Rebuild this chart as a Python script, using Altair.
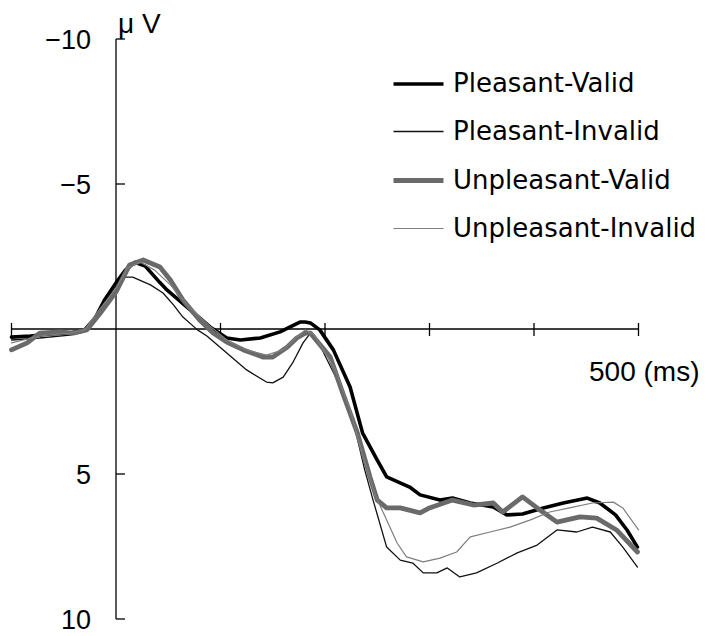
import altair as alt
import pandas as pd

# ---- data (time in ms, amplitude in microvolts) ----
series = ["Pleasant-Valid", "Pleasant-Invalid", "Unpleasant-Valid", "Unpleasant-Invalid"]

pv_t = [-100, -82, -63, -44, -30, -20, -11, 0, 9, 18, 28, 42, 49, 71, 90, 106, 119, 138, 157, 176,
        181, 186, 195, 208, 224, 236, 250, 259, 281, 291, 310, 322, 339, 361, 374, 389, 409, 428, 451, 463,
        478, 489, 499]
pv_v = [0.28, 0.24, 0.17, 0.14, 0.03, -0.38, -1.0, -1.59, -2.03, -2.3, -2.17, -1.6, -1.34, -0.66, -0.07, 0.31, 0.38, 0.31, 0.10, -0.24,
        -0.24, -0.21, 0.03, 0.72, 2.0, 3.59, 4.52, 5.10, 5.45, 5.72, 5.90, 5.83, 6.0, 6.14, 6.41, 6.38, 6.17, 6.0, 5.83, 6.0,
        6.41, 6.93, 7.52]

pi_t = [-100, -73, -44, -30, -20, -11, 0, 9, 16, 33, 45, 55, 64, 78, 87, 106, 125, 144, 150, 160,
        169, 179, 186, 195, 214, 229, 238, 246, 259, 272, 284, 294, 307, 317, 329, 345, 365, 384, 403, 422,
        441, 456, 473, 485, 499]
pi_v = [0.38, 0.31, 0.21, 0.10, -0.31, -0.9, -1.52, -1.79, -1.79, -1.52, -1.24, -0.83, -0.41, 0.03, 0.24, 0.83, 1.41, 1.83, 1.86, 1.66,
        1.17, 0.48, 0.14, 0.55, 1.93, 3.48, 4.86, 5.90, 7.52, 7.97, 8.07, 8.41, 8.41, 8.24, 8.55, 8.41, 8.07, 7.72, 7.45, 6.93,
        7.0, 6.83, 7.0, 7.52, 8.21]

uv_t = [-100, -85, -73, -54, -41, -28, -15, 0, 13, 26, 42, 52, 64, 80, 93, 106, 122, 141, 150, 164,
        173, 181, 186, 205, 217, 231, 243, 250, 259, 272, 291, 300, 322, 342, 361, 370, 389, 403, 422, 444,
        460, 479, 499]
uv_v = [0.72, 0.48, 0.14, 0.10, 0.14, 0.03, -0.55, -1.28, -2.21, -2.38, -2.14, -1.69, -1.0, -0.31, 0.14, 0.45, 0.72, 0.97, 0.97, 0.62,
        0.31, 0.14, 0.14, 0.97, 2.21, 3.59, 5.10, 5.90, 6.17, 6.17, 6.34, 6.17, 5.90, 6.07, 6.0, 6.31, 5.79, 6.17, 6.66, 6.48,
        6.52, 6.93, 7.69]

ui_t = [-100, -73, -44, -30, -20, 0, 11, 23, 37, 52, 71, 90, 106, 125, 144, 160, 173, 181, 190, 210,
        224, 236, 248, 259, 269, 278, 294, 310, 326, 339, 358, 377, 396, 415, 434, 456, 476, 485, 500]
ui_v = [0.48, 0.24, 0.14, 0.03, -0.48, -1.41, -2.10, -2.31, -2.03, -1.52, -0.72, -0.10, 0.38, 0.72, 0.90, 0.72, 0.28, 0.03, 0.21, 1.41,
        2.79, 4.34, 5.72, 6.59, 7.38, 7.86, 8.03, 7.90, 7.69, 7.17, 7.0, 6.83, 6.59, 6.31, 6.17, 6.0, 5.97, 6.17, 6.93]

y_tick_values = [-10, -5, 5, 10]
y_tick_labels = ["\u221210", "\u22125", "5", "10"]
x_tick_values = [-100, 100, 200, 300, 400, 500]
x_range = [-100, 500]
y_range = [-10, 10]

# ---- build tables ----
rows = []
for name, ts, vs in zip(series, [pv_t, pi_t, uv_t, ui_t], [pv_v, pi_v, uv_v, ui_v]):
    for t, v in zip(ts, vs):
        rows.append({"series": name, "t": t, "v": v})
df = pd.DataFrame(rows)

x_scale = alt.Scale(domain=x_range, nice=False, zero=False)
y_scale = alt.Scale(domain=y_range, reverse=True, nice=False, zero=False)

colors = ["#000000", "#111111", "#6a6a6a", "#7e7e7e"]
widths = [3.6, 1.3, 4.8, 1.2]

leg = alt.Legend(
    title=None, orient="none", legendX=379.5, legendY=18,
    symbolType="stroke", symbolSize=2500, labelFontSize=26, labelFont="DejaVu Sans",
    labelColor="black", labelOffset=7, rowPadding=8.5, padding=0, labelLimit=400,
)

lines = alt.Chart(df).mark_line(strokeJoin="round", strokeCap="round").encode(
    x=alt.X("t:Q", scale=x_scale, axis=None),
    y=alt.Y("v:Q", scale=y_scale, axis=None),
    color=alt.Color("series:N", scale=alt.Scale(domain=series, range=colors), legend=leg),
    strokeWidth=alt.StrokeWidth("series:N", scale=alt.Scale(type="ordinal", domain=series, range=widths), legend=leg),
)

axes_df = pd.DataFrame({"t0": [0, x_range[0]], "t1": [0, x_range[1]],
                        "v0": [y_range[0], 0], "v1": [y_range[1], 0]})
axis_lines = alt.Chart(axes_df).mark_rule(color="black", strokeWidth=1.3).encode(
    x=alt.X("t0:Q", scale=x_scale, axis=None), x2="t1:Q",
    y=alt.Y("v0:Q", scale=y_scale, axis=None), y2="v1:Q",
)

ydf = pd.DataFrame({"v": y_tick_values, "label": y_tick_labels, "t": [0] * len(y_tick_values)})
y_ticks = alt.Chart(ydf).mark_rule(color="black", strokeWidth=1.3, x2Offset=9).encode(
    x=alt.X("t:Q", scale=x_scale, axis=None), x2="t:Q", y=alt.Y("v:Q", scale=y_scale, axis=None)
)
y_labels = alt.Chart(ydf).mark_text(
    align="right", baseline="middle", dx=-25, dy=2, font="Liberation Sans", fontSize=27, color="black"
).encode(x=alt.X("t:Q", scale=x_scale, axis=None), y=alt.Y("v:Q", scale=y_scale, axis=None), text="label:N")

xdf = pd.DataFrame({"t": x_tick_values, "v": [0] * len(x_tick_values)})
x_ticks = alt.Chart(xdf).mark_rule(color="black", strokeWidth=1.3, yOffset=-6, y2Offset=7).encode(
    x=alt.X("t:Q", scale=x_scale, axis=None), y=alt.Y("v:Q", scale=y_scale, axis=None), y2="v:Q"
)

tdf = pd.DataFrame({"t": [x_range[1], 0], "v": [0, y_range[0]], "label": ["500 (ms)", "\u03bc V"]})
x_title = alt.Chart(tdf).transform_filter(alt.datum.v == 0).mark_text(
    align="right", baseline="middle", dx=61, dy=44, font="Liberation Sans", fontSize=28, color="black"
).encode(x=alt.X("t:Q", scale=x_scale, axis=None), y=alt.Y("v:Q", scale=y_scale, axis=None), text="label:N")
y_title = alt.Chart(tdf).transform_filter(alt.datum.v != 0).mark_text(
    align="left", baseline="alphabetic", dx=2, dy=-6, font="Liberation Sans", fontSize=28, color="black"
).encode(x=alt.X("t:Q", scale=x_scale, axis=None), y=alt.Y("v:Q", scale=y_scale, axis=None), text="label:N")

chart = alt.layer(
    axis_lines, y_ticks, x_ticks, y_labels, x_title, y_title, lines
).properties(
    width=627, height=580,
    autosize=alt.AutoSizeParams(type="none"),
    padding={"left": 3.5, "top": 31, "right": 61.5, "bottom": 17},
).configure_view(stroke=None)

chart.save("out.html", embed_options={"renderer": "svg", "actions": False})
